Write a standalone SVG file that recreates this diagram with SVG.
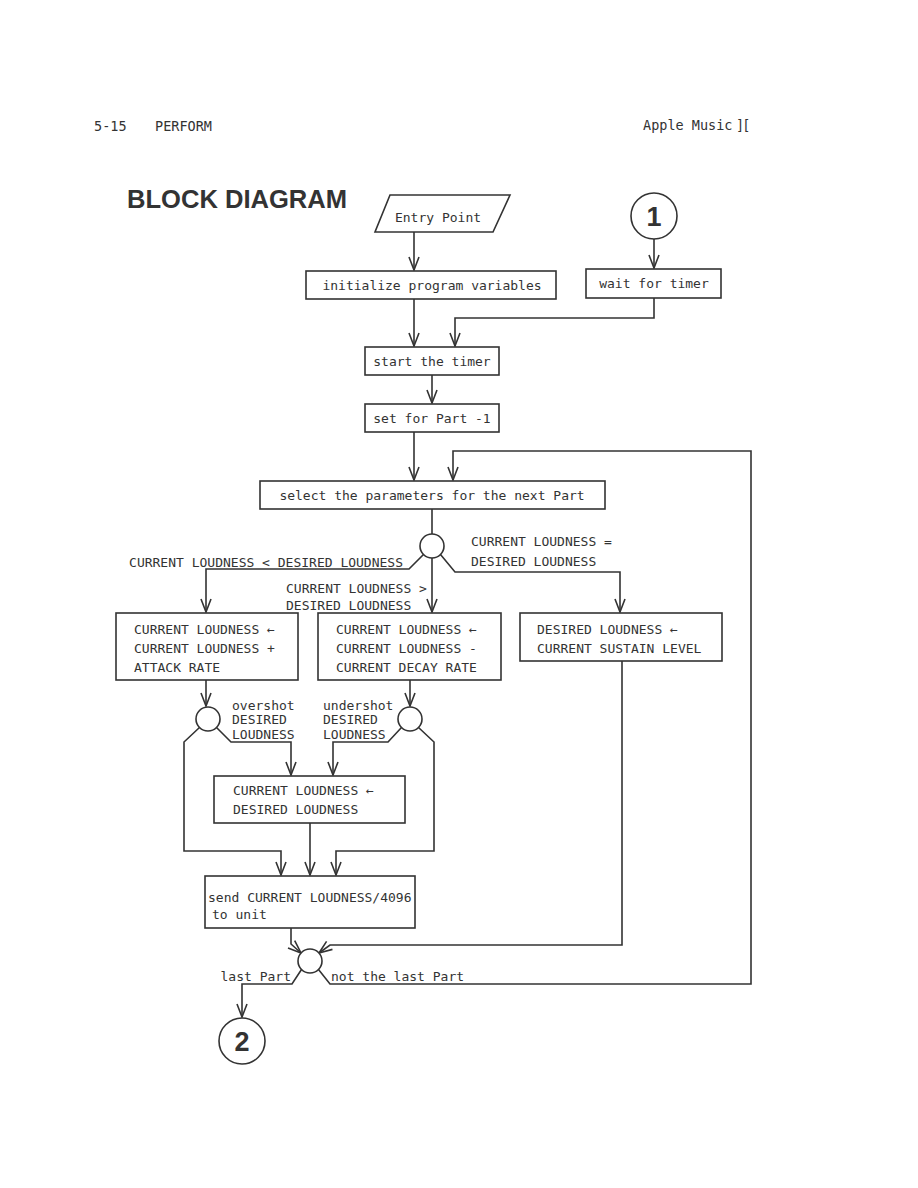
<svg xmlns="http://www.w3.org/2000/svg" width="918" height="1188" viewBox="0 0 918 1188">
<style>
.t{font-family:"DejaVu Sans Mono","Liberation Mono",monospace;font-size:13px;fill:#333}
.h{font-family:"DejaVu Sans Mono","Liberation Mono",monospace;font-size:13.5px;fill:#333}
.b{fill:#fff;stroke:#333;stroke-width:1.6}
.c{fill:none;stroke:#333;stroke-width:1.6}
.a{fill:none;stroke:#333;stroke-width:1.6;marker-end:url(#arr)}
.big{font-family:"Liberation Sans",Arial,sans-serif;font-weight:bold;fill:#333}
</style>
<defs>
<marker id="arr" viewBox="-14 -7 16 14" refX="0" refY="0" markerWidth="16" markerHeight="14" markerUnits="userSpaceOnUse" orient="auto">
<path d="M-13,-5 L0,0 L-13,5" fill="none" stroke="#333" stroke-width="1.6"/>
</marker>
</defs>
<rect width="918" height="1188" fill="#fff"/>
<g id="header">
<text class="h" x="94" y="131">5-15</text>
<text class="h" x="155" y="131">PERFORM</text>
<text class="h" x="643" y="130">Apple Music</text>
<text class="h" x="736" y="130" letter-spacing="-2">][</text>
<text class="big" x="127" y="208" font-size="25" textLength="220" lengthAdjust="spacingAndGlyphs">BLOCK DIAGRAM</text>
</g>
<g id="connectors">
<polyline class="a" points="414,232 414,270"/>
<polyline class="a" points="654,239 654,268"/>
<polyline class="a" points="414,299 414,346"/>
<polyline class="a" points="654,298 654,318 455,318 455,346"/>
<polyline class="a" points="432,375 432,403"/>
<polyline class="a" points="414,432 414,480"/>
<polyline class="a" points="318.5,969.5 330,984 751,984 751,451 453,451 453,480"/>
<polyline class="c" points="432,509 432,534"/>
<polyline class="a" points="423.5,554.5 409,569 206,569 206,612"/>
<polyline class="a" points="432,558 432,612"/>
<polyline class="a" points="440.5,554.5 455,572 620,572 620,612"/>
<polyline class="a" points="206,680 206,706"/>
<polyline class="a" points="410,680 410,706"/>
<polyline class="a" points="199.5,727.5 184,742 184,851 281,851 281,875"/>
<polyline class="a" points="216.5,727.5 231,742 291,742 291,775"/>
<polyline class="a" points="401.5,727.5 388,742 333,742 333,775"/>
<polyline class="a" points="418.5,727.5 434,742 434,851 336,851 336,875"/>
<polyline class="a" points="310,823 310,875"/>
<polyline class="a" points="291,928 291,944 301,953"/>
<polyline class="a" points="622,661 622,945 330,945 319,953"/>
<polyline class="a" points="301.5,969.5 292,984 242,984 242,1017"/>
</g>
<g id="entry">
<polygon class="b" points="390,195 510,195 493,232 375,232"/>
<text class="t" x="438" y="222" text-anchor="middle">Entry Point</text>
</g>
<g id="conn1">
<circle class="b" cx="654" cy="216" r="23"/>
<text class="big" x="654" y="226" font-size="27" text-anchor="middle">1</text>
</g>
<g id="init">
<rect class="b" x="306" y="271" width="250" height="28"/>
<text class="t" x="432" y="290" text-anchor="middle">initialize program variables</text>
</g>
<g id="wait">
<rect class="b" x="586" y="269" width="135" height="29"/>
<text class="t" x="654" y="288" text-anchor="middle">wait for timer</text>
</g>
<g id="start">
<rect class="b" x="365" y="347" width="134" height="28"/>
<text class="t" x="432" y="366" text-anchor="middle">start the timer</text>
</g>
<g id="setpart">
<rect class="b" x="365" y="404" width="134" height="28"/>
<text class="t" x="432" y="423" text-anchor="middle">set for Part -1</text>
</g>
<g id="select">
<rect class="b" x="260" y="481" width="345" height="28"/>
<text class="t" x="432" y="500" text-anchor="middle">select the parameters for the next Part</text>
</g>
<g id="dec1">
<circle class="b" cx="432" cy="546" r="12"/>
<text class="t" x="403" y="567" text-anchor="end">CURRENT LOUDNESS &lt; DESIRED LOUDNESS</text>
<text class="t" x="286" y="593">CURRENT LOUDNESS &gt;</text>
<text class="t" x="286" y="610">DESIRED LOUDNESS</text>
<text class="t" x="471" y="546">CURRENT LOUDNESS =</text>
<text class="t" x="471" y="566">DESIRED LOUDNESS</text>
</g>
<g id="attack">
<rect class="b" x="116" y="613" width="182" height="67"/>
<text class="t" x="134" y="634">CURRENT LOUDNESS ←</text>
<text class="t" x="134" y="653">CURRENT LOUDNESS +</text>
<text class="t" x="134" y="672">ATTACK RATE</text>
</g>
<g id="decay">
<rect class="b" x="318" y="613" width="183" height="67"/>
<text class="t" x="336" y="634">CURRENT LOUDNESS ←</text>
<text class="t" x="336" y="653">CURRENT LOUDNESS -</text>
<text class="t" x="336" y="672">CURRENT DECAY RATE</text>
</g>
<g id="sustain">
<rect class="b" x="520" y="613" width="202" height="48"/>
<text class="t" x="537" y="634">DESIRED LOUDNESS ←</text>
<text class="t" x="537" y="653">CURRENT SUSTAIN LEVEL</text>
</g>
<g id="dec2">
<circle class="b" cx="208" cy="719" r="12"/>
<text class="t" x="232" y="710">overshot</text>
<text class="t" x="232" y="724">DESIRED</text>
<text class="t" x="232" y="739">LOUDNESS</text>
</g>
<g id="dec3">
<circle class="b" cx="410" cy="719" r="12"/>
<text class="t" x="323" y="710">undershot</text>
<text class="t" x="323" y="724">DESIRED</text>
<text class="t" x="323" y="739">LOUDNESS</text>
</g>
<g id="clamp">
<rect class="b" x="214" y="776" width="191" height="47"/>
<text class="t" x="233" y="795">CURRENT LOUDNESS ←</text>
<text class="t" x="233" y="814">DESIRED LOUDNESS</text>
</g>
<g id="send">
<rect class="b" x="205" y="876" width="210" height="52"/>
<text class="t" x="208" y="902">send CURRENT LOUDNESS/4096</text>
<text class="t" x="212" y="919">to unit</text>
</g>
<g id="dec4">
<circle class="b" cx="310" cy="961" r="12"/>
<text class="t" x="291" y="981" text-anchor="end">last Part</text>
<text class="t" x="331" y="981">not the last Part</text>
</g>
<g id="conn2">
<circle class="b" cx="242" cy="1041" r="23"/>
<text class="big" x="242" y="1051" font-size="27" text-anchor="middle">2</text>
</g>
</svg>
